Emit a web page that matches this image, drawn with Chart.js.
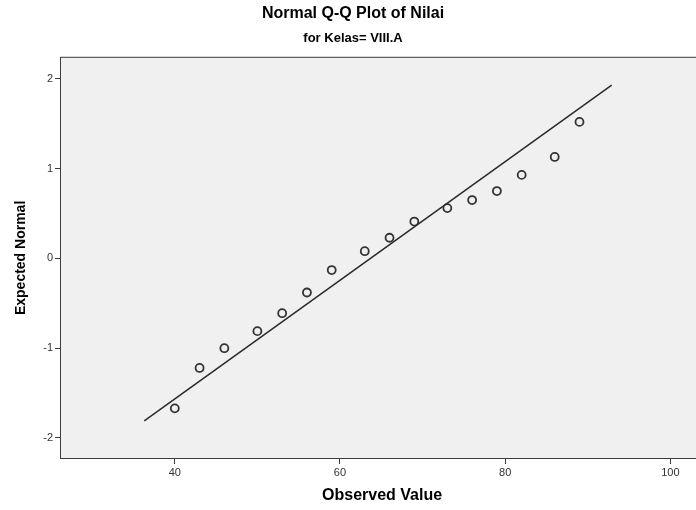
<!DOCTYPE html>
<html>
<head>
<meta charset="utf-8">
<script src="https://cdn.jsdelivr.net/npm/chart.js@4.4.1/dist/chart.umd.min.js"></script>
<style>
  html, body { margin: 0; padding: 0; background: #fff; overflow: hidden; }
  #wrap { width: 710px; height: 510px; }
</style>
</head>
<body>
<div id="wrap"><canvas id="qq"></canvas></div>
<script>
// observed values and their expected normal scores
const observed = [40, 43, 46, 50, 53, 56, 59, 63, 66, 69, 73, 76, 79, 82, 86, 89];
const expected = [-1.67, -1.22, -1.00, -0.81, -0.61, -0.38, -0.13, 0.08, 0.23, 0.41, 0.56, 0.65, 0.75, 0.93, 1.13, 1.52];

// reference line end points
const lineX = [36.3, 92.9];
const lineY = [-1.81, 1.93];

const xTicks = [40, 60, 80, 100];
const yTicks = [-2, -1, 0, 1, 2];

const FONT = "'Liberation Sans', Arial, sans-serif";

// plot panel: grey fill under the marks, dark frame on top
const panel = {
  id: 'panel',
  beforeDatasetsDraw(chart) {
    const { ctx, chartArea: a } = chart;
    ctx.save();
    ctx.fillStyle = '#f0f0f0';
    ctx.fillRect(a.left, a.top, a.right - a.left, a.bottom - a.top);
    ctx.restore();
  },
  afterDraw(chart) {
    const { ctx, chartArea: a } = chart;
    ctx.save();
    ctx.strokeStyle = '#3c3c3c';
    ctx.lineWidth = 1;
    ctx.strokeRect(a.left + 0.5, a.top + 0.5, a.right - a.left - 1, a.bottom - a.top - 1);
    ctx.restore();
  }
};

const setTicks = (list) => (scale) => { scale.ticks = list.map(v => ({ value: v })); };

new Chart(document.getElementById('qq'), {
  type: 'scatter',
  data: {
    datasets: [
      {
        label: 'Observed',
        data: observed.map((x, i) => ({ x, y: expected[i] })),
        showLine: false,
        pointRadius: 4,
        pointBorderWidth: 1.8,
        pointBorderColor: '#333333',
        pointBackgroundColor: 'rgba(0,0,0,0)'
      },
      {
        label: 'Line',
        data: lineX.map((x, i) => ({ x, y: lineY[i] })),
        showLine: true,
        borderColor: '#2a2a2a',
        borderWidth: 1.5,
        pointRadius: 0
      }
    ]
  },
  options: {
    responsive: true,
    maintainAspectRatio: false,
    animation: false,
    layout: { padding: { top: 0, right: 4, bottom: 0, left: 0 } },
    plugins: {
      legend: { display: false },
      tooltip: { enabled: false },
      title: {
        display: true,
        text: 'Normal Q-Q Plot of Nilai',
        color: '#000',
        font: { family: FONT, size: 16, weight: 'bold' },
        padding: { top: 4, bottom: 7 }
      },
      subtitle: {
        display: true,
        text: 'for Kelas= VIII.A',
        color: '#000',
        font: { family: FONT, size: 13, weight: 'bold' },
        padding: { top: 0, bottom: 11 }
      }
    },
    scales: {
      x: {
        type: 'linear',
        min: 26.1,
        max: 104.1,
        afterBuildTicks: setTicks(xTicks),
        afterFit(scale) { scale.height = 51; },
        border: { display: false },
        grid: { drawOnChartArea: false, drawTicks: true, tickLength: 5, color: '#3c3c3c' },
        ticks: { color: '#333', padding: 2, font: { family: FONT, size: 11 } },
        title: {
          display: true,
          text: 'Observed Value',
          color: '#000',
          font: { family: FONT, size: 16, weight: 'bold' },
          padding: { top: 0, bottom: 5 }
        }
      },
      y: {
        type: 'linear',
        min: -2.234,
        max: 2.245,
        afterBuildTicks: setTicks(yTicks),
        afterFit(scale) { scale.width = 60; },
        border: { display: false },
        grid: { drawOnChartArea: false, drawTicks: true, tickLength: 5, color: '#3c3c3c' },
        ticks: { color: '#333', padding: 2, font: { family: FONT, size: 11 } },
        title: {
          display: true,
          text: 'Expected Normal',
          color: '#000',
          font: { family: FONT, size: 14, weight: 'bold' },
          padding: { top: 13, bottom: 0 }
        }
      }
    }
  },
  plugins: [panel]
});
</script>
</body>
</html>
